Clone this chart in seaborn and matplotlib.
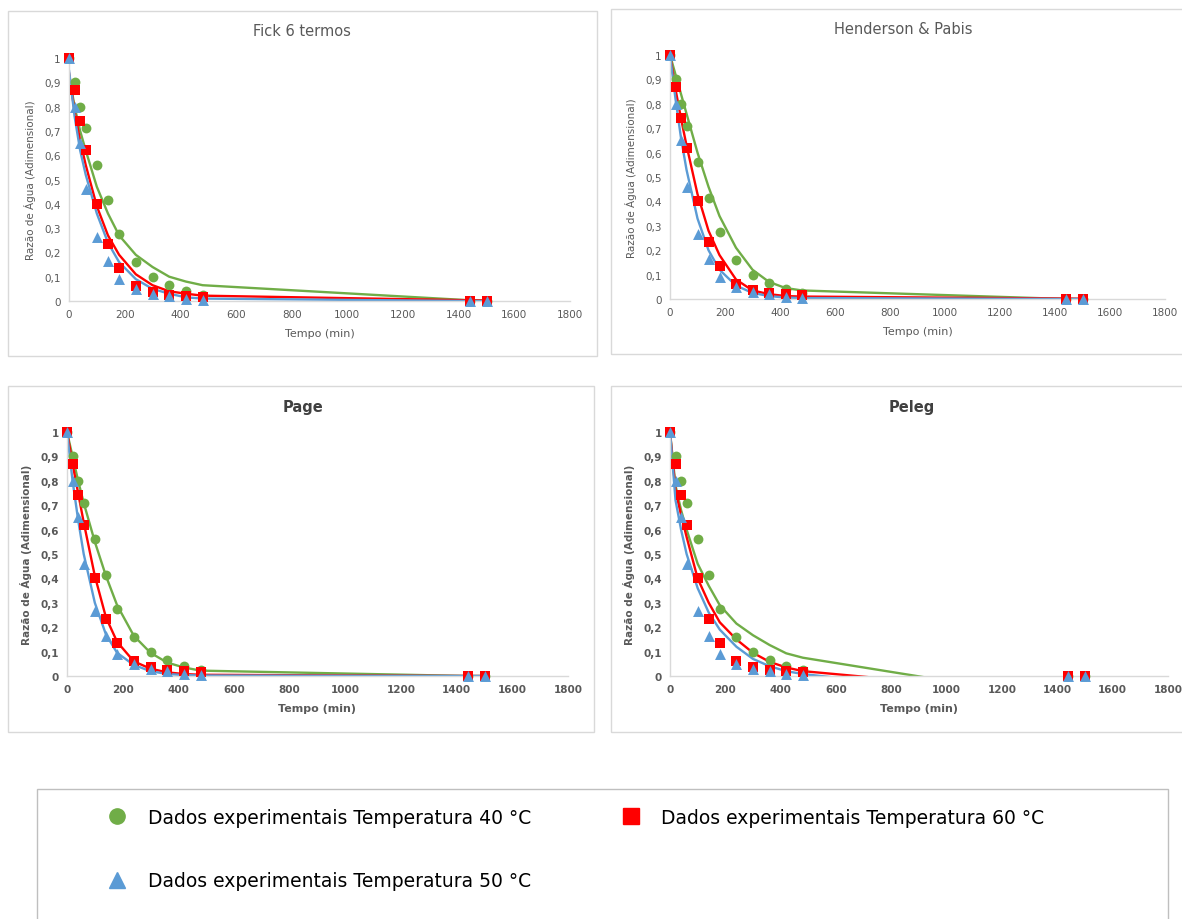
import numpy as np
import pandas as pd
import matplotlib
matplotlib.use('Agg')
import matplotlib.pyplot as plt
import seaborn as sns
from matplotlib.patches import Rectangle
from matplotlib.ticker import FuncFormatter, MultipleLocator

# Tempos de secagem (min)
tempo = [0, 20, 40, 60, 100, 140, 180, 240, 300, 360, 420, 480, 1440, 1500]

# Dados experimentais (razão de água)
exp_40 = [1.0, 0.90, 0.80, 0.71, 0.56, 0.415, 0.275, 0.16, 0.10, 0.065, 0.04, 0.025, 0.0, 0.0]
exp_50 = [1.0, 0.80, 0.65, 0.46, 0.265, 0.165, 0.09, 0.05, 0.03, 0.02, 0.01, 0.005, 0.0, 0.0]
exp_60 = [1.0, 0.87, 0.74, 0.62, 0.40, 0.235, 0.135, 0.06, 0.035, 0.025, 0.02, 0.015, 0.0, 0.0]

# Valores previstos pelos modelos
fick_40 = [0.93, 0.80, 0.70, 0.62, 0.47, 0.36, 0.27, 0.19, 0.14, 0.10, 0.08, 0.065, 0.003, 0.002]
fick_50 = [0.95, 0.76, 0.62, 0.52, 0.36, 0.24, 0.16, 0.09, 0.05, 0.03, 0.015, 0.01, 0.0, 0.0]
fick_60 = [0.94, 0.78, 0.66, 0.56, 0.39, 0.27, 0.19, 0.11, 0.065, 0.04, 0.03, 0.022, 0.003, 0.002]

hp_40 = [1.0, 0.92, 0.84, 0.76, 0.60, 0.46, 0.34, 0.21, 0.12, 0.07, 0.045, 0.035, 0.0, 0.0]
hp_50 = [1.0, 0.82, 0.66, 0.53, 0.33, 0.20, 0.12, 0.055, 0.025, 0.012, 0.006, 0.004, 0.0, 0.0]
hp_60 = [1.0, 0.86, 0.74, 0.63, 0.43, 0.28, 0.18, 0.08, 0.035, 0.02, 0.012, 0.01, 0.002, 0.001]

page_40 = [1.0, 0.90, 0.80, 0.71, 0.55, 0.41, 0.29, 0.165, 0.095, 0.055, 0.035, 0.022, 0.0, 0.0]
page_50 = [1.0, 0.80, 0.64, 0.50, 0.30, 0.17, 0.095, 0.045, 0.02, 0.008, 0.004, 0.002, 0.0, 0.0]
page_60 = [1.0, 0.87, 0.75, 0.63, 0.41, 0.24, 0.14, 0.06, 0.03, 0.015, 0.008, 0.005, 0.0, 0.0]

peleg_40 = [1.0, 0.78, 0.68, 0.60, 0.46, 0.37, 0.29, 0.215, 0.167, 0.127, 0.093, 0.075, -0.10, -0.11]
peleg_50 = [1.0, 0.72, 0.60, 0.50, 0.36, 0.26, 0.19, 0.12, 0.07, 0.04, 0.02, 0.008, -0.11, -0.12]
peleg_60 = [1.0, 0.76, 0.66, 0.57, 0.40, 0.30, 0.22, 0.15, 0.095, 0.058, 0.035, 0.02, -0.08, -0.085]

rotulos = ['Dados experimentais Temperatura 40 °C',
           'Dados experimentais Temperatura 50 °C',
           'Dados experimentais Temperatura 60 °C']

verde = '#70AD47'
azul = '#5B9BD5'
vermelho = '#FF0000'
cinza = '#595959'

sns.set_theme(style='white')
plt.rcParams['font.family'] = ['DejaVu Sans']

W, H = 1182, 920
fig = plt.figure(figsize=(W / 100, H / 100), dpi=100)


def caixa(x0, y0, x1, y1, cor='#D9D9D9'):
    fig.patches.append(Rectangle((x0 / W, 1 - y1 / H), (x1 - x0) / W, (y1 - y0) / H,
                                 transform=fig.transFigure, fill=False,
                                 edgecolor=cor, linewidth=1.0))


paineis = [
    ('Fick 6 termos', (69, 59, 570, 302), (8, 12, 597, 357), (302, 32), fick_40, fick_50, fick_60, False),
    ('Henderson & Pabis', (670, 56, 1165, 300), (611, 10, 1190, 355), (903, 30), hp_40, hp_50, hp_60, False),
    ('Page', (67, 433, 568, 677), (8, 387, 594, 733), (303, 408), page_40, page_50, page_60, True),
    ('Peleg', (670, 433, 1168, 677), (611, 387, 1190, 733), (912, 408), peleg_40, peleg_50, peleg_60, True),
]

virgula = FuncFormatter(lambda v, p: ('%g' % round(v, 2)).replace('.', ','))

for titulo, (ax0, ay0, ax1, ay1), frame, (tx, ty), m40, m50, m60, negrito in paineis:
    caixa(*frame)
    peso = 'bold' if negrito else 'normal'
    ax = fig.add_axes([ax0 / W, 1 - ay1 / H, (ax1 - ax0) / W, (ay1 - ay0) / H])

    # curvas dos modelos
    sns.lineplot(x=tempo, y=m40, color=verde, linewidth=1.7, sort=False, ax=ax, zorder=2)
    sns.lineplot(x=tempo, y=m60, color=vermelho, linewidth=1.7, sort=False, ax=ax, zorder=2)
    sns.lineplot(x=tempo, y=m50, color=azul, linewidth=1.7, sort=False, ax=ax, zorder=2)

    # pontos experimentais
    sns.scatterplot(x=tempo, y=exp_40, marker='o', s=50, color=verde, edgecolor=verde,
                    linewidth=0, ax=ax, zorder=3, clip_on=False)
    sns.scatterplot(x=tempo, y=exp_60, marker='s', s=62, color=vermelho, edgecolor=vermelho,
                    linewidth=0, ax=ax, zorder=4, clip_on=False)
    sns.scatterplot(x=tempo, y=exp_50, marker='^', s=62, color=azul, edgecolor=azul,
                    linewidth=0, ax=ax, zorder=5, clip_on=False)

    ax.set_xlim(0, 1800)
    ax.set_ylim(0, 1)
    ax.xaxis.set_major_locator(MultipleLocator(200))
    ax.yaxis.set_major_locator(MultipleLocator(0.1))
    ax.yaxis.set_major_formatter(virgula)
    ax.tick_params(axis='both', length=0, labelsize=7.5, labelcolor=cinza, pad=6)
    for lab in ax.get_xticklabels() + ax.get_yticklabels():
        lab.set_fontweight(peso)
    for lado in ['top', 'right']:
        ax.spines[lado].set_visible(False)
    for lado in ['left', 'bottom']:
        ax.spines[lado].set_color('#D9D9D9')
        ax.spines[lado].set_linewidth(1.0)
    ax.set_facecolor('none')
    ax.set_xlabel('Tempo (min)', fontsize=8, color=cinza, fontweight=peso, labelpad=6)
    ax.set_ylabel('Razão de Água (Adimensional)', fontsize=7.5, color=cinza, fontweight=peso, labelpad=6)

    fig.text(tx / W, 1 - ty / H, titulo, ha='center', va='center', fontsize=10.5,
             color=cinza if not negrito else '#404040', fontweight=peso)

# legenda geral
caixa(37, 790, 1168, 960, cor='#BFBFBF')
hand = [
    plt.Line2D([], [], marker='o', linestyle='none', color=verde, markersize=11),
    plt.Line2D([], [], marker='^', linestyle='none', color=azul, markersize=12),
    plt.Line2D([], [], marker='s', linestyle='none', color=vermelho, markersize=11),
]
leg = fig.legend(hand, rotulos, loc='upper left', bbox_to_anchor=(108 / W, 1 - 809 / H),
                 ncol=2, frameon=False, fontsize=13.5, labelspacing=2.36, columnspacing=4.8,
                 handletextpad=1.13, handlelength=1.0, borderpad=0, borderaxespad=0)
for t in leg.get_texts():
    t.set_color('black')

plt.savefig('out.png', dpi=100)
